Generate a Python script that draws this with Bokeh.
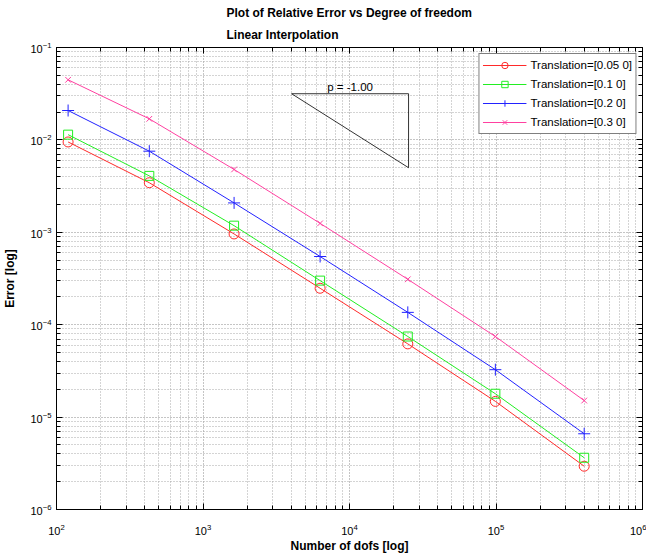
import math
from bokeh.plotting import figure
from bokeh.models import (Range1d, FixedTicker, LogAxis, Legend, LegendItem,
                          CustomJSTickFormatter, LogTickFormatter, Title)
from bokeh.core.properties import value
from bokeh.embed import file_html
from bokeh.resources import INLINE

# ---------------- data ----------------
dofs = [120, 430, 1630, 6300, 25000, 99000, 400000]
err_005 = [9.5e-3, 3.44e-3, 9.6e-4, 2.48e-4, 6.2e-5, 1.48e-5, 2.94e-6]
err_01 = [1.14e-2, 4.08e-3, 1.18e-3, 3.0e-4, 7.45e-5, 1.79e-5, 3.63e-6]
err_02 = [2.08e-2, 7.55e-3, 2.08e-3, 5.47e-4, 1.36e-4, 3.26e-5, 6.6e-6]
err_03 = [4.47e-2, 1.69e-2, 4.79e-3, 1.25e-3, 3.1e-4, 7.45e-5, 1.51e-5]
series_labels = ["Translation=[0.05 0]", "Translation=[0.1 0]",
                 "Translation=[0.2 0]", "Translation=[0.3 0]"]

tri_x = [4025, 25300, 25300, 4025]
tri_y = [0.0316, 0.0316, 0.005, 0.0316]
slope_label = "p = -1.00"

x_ticks = [1e2, 1e3, 1e4, 1e5, 1e6]
y_ticks = [1e-6, 1e-5, 1e-4, 1e-3, 1e-2, 1e-1]

title1 = "Plot of Relative Error vs Degree of freedom"
title2 = "Linear Interpolation"
xlabel = "Number of dofs [log]"
ylabel = "Error [log]"

FONT = "Liberation Sans"

# frame geometry (pixels)
FL, FR, FT, FB = 55, 642, 47, 509
W, H = 646, 558

x_minor = [k * 10 ** n for n in range(2, 6) for k in range(2, 10)]
y_minor = [k * 10.0 ** n for n in range(-6, -1) for k in range(2, 10)]

p = figure(width=W, height=H, x_axis_type="log", y_axis_type="log",
           x_range=Range1d(1e2, 1e6), y_range=Range1d(1e-6, 1e-1),
           output_backend="svg", toolbar_location=None,
           min_border_left=FL, min_border_right=W - FR,
           min_border_top=FT, min_border_bottom=H - FB)

p.outline_line_color = "black"
p.outline_line_width = 1
p.background_fill_color = "white"
p.border_fill_color = "white"

bottom_axis = p.below[0]
left_axis = p.left[0]

top_axis = LogAxis()
right_axis = LogAxis()
p.add_layout(top_axis, "above")
p.add_layout(right_axis, "right")

xt = FixedTicker(ticks=x_ticks, minor_ticks=x_minor)
yt = FixedTicker(ticks=y_ticks, minor_ticks=y_minor)

for ax, tk in ((bottom_axis, xt), (top_axis, xt), (left_axis, yt), (right_axis, yt)):
    ax.ticker = tk
    ax.major_tick_in = 6
    ax.major_tick_out = 0
    ax.minor_tick_in = 4
    ax.minor_tick_out = 0
    ax.axis_line_color = "black"
    ax.major_tick_line_color = "black"
    ax.minor_tick_line_color = "black"

for ax in (top_axis, right_axis):
    ax.formatter = CustomJSTickFormatter(code="return ''")
    ax.major_label_text_font_size = "0px"
    ax.major_label_standoff = 0

for ax in (bottom_axis, left_axis):
    ax.formatter = LogTickFormatter()
    ax.major_label_text_font = FONT
    ax.major_label_text_font_size = "11px"
    ax.major_label_text_color = "black"
    ax.axis_label_text_font = FONT
    ax.axis_label_text_font_size = "12px"
    ax.axis_label_text_font_style = "bold"
    ax.axis_label_text_color = "black"

bottom_axis.major_label_standoff = 14
bottom_axis.axis_label = xlabel
bottom_axis.axis_label_standoff = 1
left_axis.major_label_standoff = 5
left_axis.axis_label = ylabel
left_axis.axis_label_standoff = 10

p.xgrid.ticker = xt
p.ygrid.ticker = yt
for g in (p.xgrid[0], p.ygrid[0]):
    g.grid_line_color = "#8a8a8a"
    g.grid_line_dash = "1 2"
    g.grid_line_width = 1
    g.minor_grid_line_color = "#a8a8a8"
    g.minor_grid_line_dash = "1 2"
    g.minor_grid_line_width = 1

# titles (added after the top axis so they stack outside it)
t2 = Title(text=title2, align="left", offset=225 - FL, text_font=FONT,
           text_font_size="12px", text_font_style="bold", text_color="black",
           standoff=12)
t1 = Title(text=title1, align="left", offset=225 - FL, text_font=FONT,
           text_font_size="12px", text_font_style="bold", text_color="black",
           standoff=0)
p.add_layout(t2, "above")
p.add_layout(t1, "above")

# ---------------- series ----------------
c_red, c_green, c_blue, c_pink = "#ff2a2a", "#22ee22", "#2222ff", "#ff40a0"
r1 = p.line(dofs, err_005, line_color=c_red, line_width=1)
m1 = p.scatter(dofs, err_005, marker="circle", size=10, fill_color=None,
               line_color=c_red, line_width=1)
r2 = p.line(dofs, err_01, line_color=c_green, line_width=1)
m2 = p.scatter(dofs, err_01, marker="square", size=9, fill_color=None,
               line_color=c_green, line_width=1)
r3 = p.line(dofs, err_02, line_color=c_blue, line_width=1)
m3 = p.scatter(dofs, err_02, marker="cross", size=12, line_color=c_blue, line_width=1)
r4 = p.line(dofs, err_03, line_color=c_pink, line_width=1)
m4 = p.scatter(dofs, err_03, marker="x", size=8, line_color=c_pink, line_width=1)
items = [LegendItem(label=series_labels[0], renderers=[r1, m1]),
         LegendItem(label=series_labels[1], renderers=[r2, m2]),
         LegendItem(label=series_labels[2], renderers=[r3, m3]),
         LegendItem(label=series_labels[3], renderers=[r4, m4])]

legend = Legend(items=items, location="top_right", margin=6, padding=3,
                spacing=3, glyph_width=44, glyph_height=16, label_height=16,
                label_standoff=4, label_text_font=FONT,
                label_text_font_size="11.5px", label_text_color="black",
                border_line_color="black", border_line_width=1,
                background_fill_color="white", background_fill_alpha=1)
p.add_layout(legend, "center")

# slope triangle
p.line(tri_x, tri_y, line_color="black", line_width=0.8)
p.text(x=[math.sqrt(tri_x[0] * tri_x[1])], y=[tri_y[0]], text=[slope_label],
       text_font=value(FONT), text_font_size="11.5px", text_align="center",
       text_baseline="bottom", y_offset=-1, text_color="black")

open("out.html", "w").write(file_html(p, INLINE))
